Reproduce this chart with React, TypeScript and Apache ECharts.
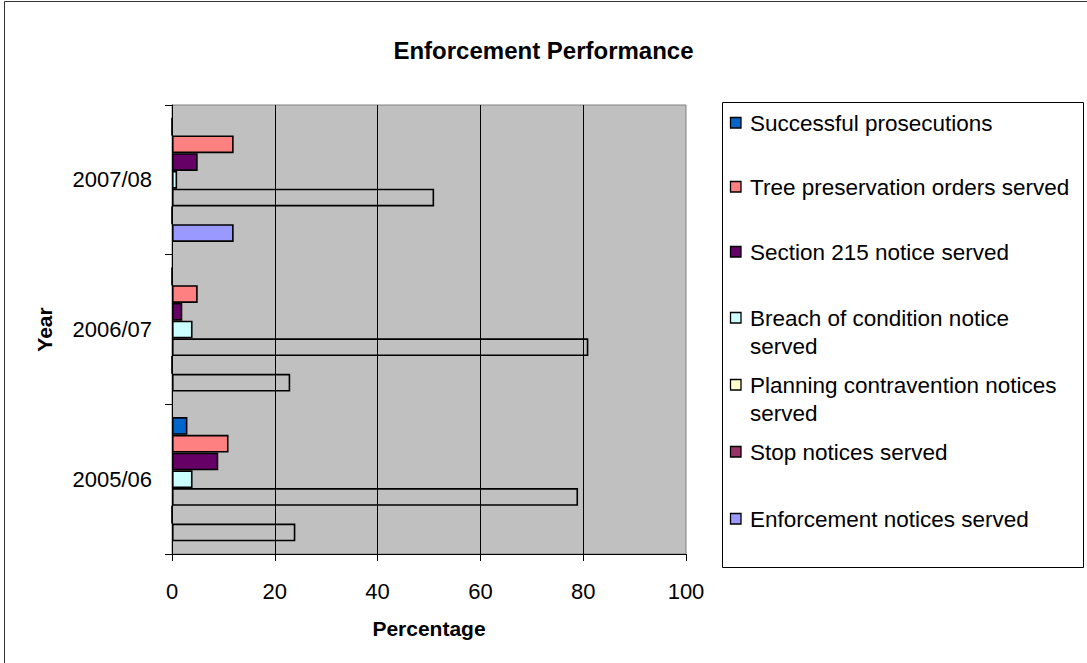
import React, { useEffect, useRef } from "react";
import * as echarts from "echarts";

const categories = ["2005/06", "2006/07", "2007/08"];
const seriesNames = [
  "Successful prosecutions",
  "Tree preservation orders served",
  "Section 215 notice served",
  "Breach of condition notice served",
  "Planning contravention notices served",
  "Stop notices served",
  "Enforcement notices served",
];
const legendLabels = [
  "Successful prosecutions",
  "Tree preservation orders served",
  "Section 215 notice served",
  "Breach of condition notice\nserved",
  "Planning contravention notices\nserved",
  "Stop notices served",
  "Enforcement notices served",
];
const successful = [3, 0, 0];
const treePreservation = [11, 5, 12];
const section215 = [9, 2, 5];
const breachOfCondition = [4, 4, 1];
const planningContravention = [79, 81, 51];
const stopNotices = [0, 0, 0];
const enforcementNotices = [24, 23, 12];
const xTicks = [0, 20, 40, 60, 80, 100];

const colors = ["#0066CC", "#FF8080", "#660066", "#CCFFFF", "#FFFFCC", "#993366", "#9999FF"];
// which points are drawn without fill (as in the reference)
const hollow = [
  [false, false, false],
  [false, false, false],
  [false, false, false],
  [false, false, false],
  [true, true, true],
  [false, false, false],
  [true, true, false],
];

const FONT = "'Liberation Sans', Arial, sans-serif";

export default function App() {
  const ref = useRef<HTMLDivElement>(null);
  useEffect(() => {
    if (!ref.current) return;
    const chart = echarts.init(ref.current, null, { renderer: "svg" });
    const values = [
      successful,
      treePreservation,
      section215,
      breachOfCondition,
      planningContravention,
      stopNotices,
      enforcementNotices,
    ];
    const legendY = [123, 187, 252, 318, 385, 452, 519];
    const legendGraphics: any[] = [];
    legendGraphics.push({
      type: "rect",
      shape: { x: 722.5, y: 102.5, width: 361, height: 465 },
      style: { fill: "#fff", stroke: "#000", lineWidth: 1 },
      z: 0,
    });
    seriesNames.forEach((n, i) => {
      legendGraphics.push({
        type: "rect",
        shape: { x: 730.5, y: legendY[i] - 5.5, width: 10.5, height: 10.5 },
        style: { fill: colors[i], stroke: "#000", lineWidth: 1.3 },
        z: 1,
      });
      legendGraphics.push({
        type: "text",
        x: 750,
        y: legendY[i] - 14,
        style: {
          text: legendLabels[i],
          font: `22.5px ${FONT}`,
          fill: "#000",
          lineHeight: 28,
          verticalAlign: "top",
          textAlign: "left",
        },
        z: 1,
      });
    });

    chart.setOption({
      animation: false,
      backgroundColor: "#fff",
      textStyle: { fontFamily: FONT },
      title: {
        text: "Enforcement Performance",
        left: "center",
        top: 33,
        textStyle: { fontFamily: FONT, fontSize: 24, fontWeight: "bold", color: "#000" },
      },
      grid: {
        left: 172,
        right: 401,
        top: 105,
        bottom: 109,
        show: true,
        backgroundColor: "#C0C0C0",
        borderColor: "#808080",
        borderWidth: 1,
        containLabel: false,
      },
      xAxis: {
        type: "value",
        min: xTicks[0],
        max: xTicks[xTicks.length - 1],
        interval: 20,
        name: "Percentage",
        nameLocation: "middle",
        nameGap: 64,
        nameTextStyle: { fontFamily: FONT, fontSize: 21, fontWeight: "bold", color: "#000" },
        axisLine: { show: true, lineStyle: { color: "#000", width: 1 } },
        axisTick: { show: true, length: 7, lineStyle: { color: "#000" } },
        axisLabel: { fontFamily: FONT, fontSize: 22, color: "#000", margin: 26 },
        splitLine: { show: true, showMinLine: false, showMaxLine: false, lineStyle: { color: "#000", width: 1 } },
      },
      yAxis: {
        type: "category",
        data: categories,
        name: "Year",
        nameLocation: "middle",
        nameGap: 117,
        nameRotate: 90,
        nameTextStyle: { fontFamily: FONT, fontSize: 21, fontWeight: "bold", color: "#000" },
        axisLine: { show: true, lineStyle: { color: "#000", width: 1 } },
        axisTick: { show: true, length: 7, lineStyle: { color: "#000" } },
        axisLabel: { fontFamily: FONT, fontSize: 22, color: "#000", margin: 20 },
        splitLine: { show: false },
      },
      series: seriesNames.map((name, i) => ({
        name,
        type: "bar",
        barGap: "0%",
        barCategoryGap: "17%",
        itemStyle: { color: colors[i], borderColor: "#000", borderWidth: 1.6 },
        data: values[i].map((v, j) => ({
          value: v,
          itemStyle: hollow[i][j] ? { color: "rgba(0,0,0,0)" } : undefined,
        })),
      })),
      graphic: [
        {
          type: "rect",
          shape: { x: 4.5, y: 1.5, width: 1100, height: 700 },
          style: { fill: "none", stroke: "#333", lineWidth: 1 },
          z: -1,
          silent: true,
        },
        ...legendGraphics,
      ],
    });
    return () => chart.dispose();
  }, []);
  return <div ref={ref} style={{ width: 1087, height: 663, position: "absolute", left: 0, top: 0 }} />;
}
